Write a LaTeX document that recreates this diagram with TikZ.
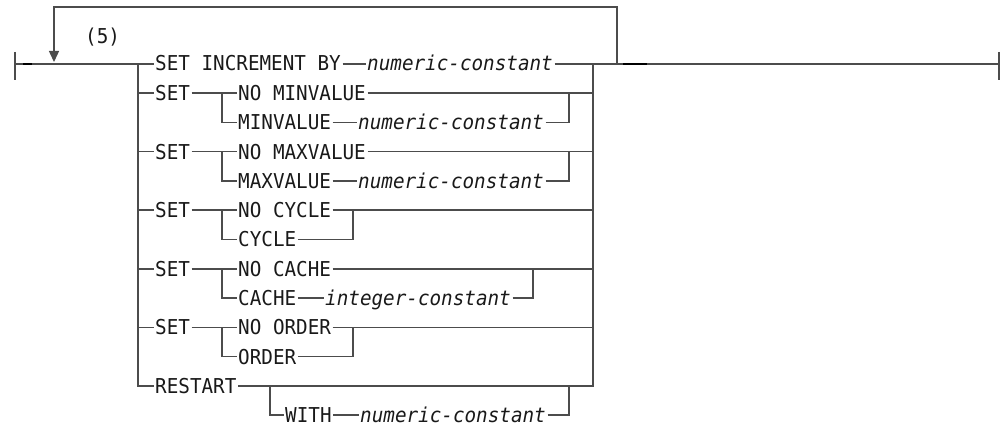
\documentclass[tikz,border=0pt]{standalone}
\usepackage{fontspec}
\setmonofont{DejaVu Sans Mono}[FakeStretch=0.94]
\usetikzlibrary{arrows.meta}
\tikzset{
  rail/.style={draw=black!70, line width=1.4pt},
  stub/.style={draw=black, line width=1.8pt},
  kw/.style={font=\ttfamily\fontsize{20.5}{20.5}\selectfont, text=black!90,
    inner xsep=1.5pt, inner ysep=0pt, text height=14.9pt, text depth=0pt, anchor=west},
  var/.style={kw, font=\ttfamily\itshape\fontsize{20.5}{20.5}\selectfont},
}
\begin{document}
\begin{tikzpicture}[x=1pt, y=-1pt]
    \useasboundingbox (0,0) rectangle (1002,425);

    % rail columns
    \coordinate (start) at (15,64);
    \coordinate (stl) at (138,64);
    \coordinate (str) at (593,64);
    \coordinate (lpr) at (617,64);
    \coordinate (lpl) at (54,62);
    \coordinate (end) at (999,64);
    \coordinate (bl) at (222,0);
    \coordinate (rl) at (270,0);
    \coordinate (brv) at (569,0);
    \coordinate (brc) at (533,0);
    \coordinate (bro) at (353,0);

    % words
    \node[kw] (five) at (83.5,36) {(5)};
    \node[kw] (setinc) at (153.5,63.5) {SET INCREMENT BY};
    \node[var] (incc) at (365.5,63.5) {numeric-constant};

    \node[kw] (set1) at (153.5,93) {SET};
    \node[kw] (nomin) at (236.5,93) {NO MINVALUE};
    \node[kw] (minv) at (236.5,122.3) {MINVALUE};
    \node[var] (minc) at (356.5,122.3) {numeric-constant};

    \node[kw] (set2) at (153.5,151.6) {SET};
    \node[kw] (nomax) at (236.5,151.6) {NO MAXVALUE};
    \node[kw] (maxv) at (236.5,180.9) {MAXVALUE};
    \node[var] (maxc) at (356.5,180.9) {numeric-constant};

    \node[kw] (set3) at (153.5,210.2) {SET};
    \node[kw] (nocyc) at (236.5,210.2) {NO CYCLE};
    \node[kw] (cyc) at (236.5,239.5) {CYCLE};

    \node[kw] (set4) at (153.5,268.8) {SET};
    \node[kw] (nocache) at (236.5,268.8) {NO CACHE};
    \node[kw] (cache) at (236.5,298.1) {CACHE};
    \node[var] (cachec) at (323.5,298.1) {integer-constant};

    \node[kw] (set5) at (153.5,327.4) {SET};
    \node[kw] (noord) at (236.5,327.4) {NO ORDER};
    \node[kw] (ord) at (236.5,356.7) {ORDER};

    \node[kw] (restart) at (153.5,386) {RESTART};
    \node[kw] (with) at (283.5,415) {WITH};
    \node[var] (withc) at (358.5,415) {numeric-constant};

    % main line and end bars
    \draw[rail] (start) ++(0,-12) -- ++(0,28);
    \draw[rail] (end) ++(0,-12) -- ++(0,28);
    \draw[rail] (start) -- (start -| setinc.west);
    \draw[rail] (setinc.east |- start) -- (start -| incc.west);
    \draw[rail] (incc.east |- start) -- (end);
    \draw[stub] (23,64) -- (32,64);
    \draw[stub] (623,64) -- (647,64);

    % repeat loop
    \draw[rail, -{Triangle[width=10pt,length=11pt]}] (lpr) -- ++(0,-57) -| (lpl);

    % stack
    \draw[rail] (stl) |- (restart.west);
    \draw[rail] (str) |- (restart.east);
    \foreach \n in {set1,set2,set3,set4,set5}
        \draw[rail] (stl |- \n.west) -- (\n.west);
    \foreach \n in {nomin,nomax,nocyc,nocache,noord}
        \draw[rail] (\n.east) -- (str |- \n.east);
    \foreach \a/\b in {set1/nomin, set2/nomax, set3/nocyc, set4/nocache, set5/noord} {
        \draw[rail] (\a) -- (\b);
    }
    \foreach \a/\b in {nomin/minv, nomax/maxv, nocyc/cyc, nocache/cache, noord/ord} {
        \draw[rail] (bl |- \a.west) |- (\b.west);
    }

    % second choices
    \draw[rail] (minv) -- (minc);
    \draw[rail] (minc.east) -| (brv |- nomin.east);
    \draw[rail] (maxv) -- (maxc);
    \draw[rail] (maxc.east) -| (brv |- nomax.east);
    \draw[rail] (cyc.east) -| (bro |- nocyc.east);
    \draw[rail] (cache) -- (cachec);
    \draw[rail] (cachec.east) -| (brc |- nocache.east);
    \draw[rail] (ord.east) -| (bro |- noord.east);

    % optional WITH
    \draw[rail] (rl |- restart.east) |- (with.west);
    \draw[rail] (with) -- (withc);
    \draw[rail] (withc.east) -| (brv |- restart.east);

\end{tikzpicture}
\end{document}
